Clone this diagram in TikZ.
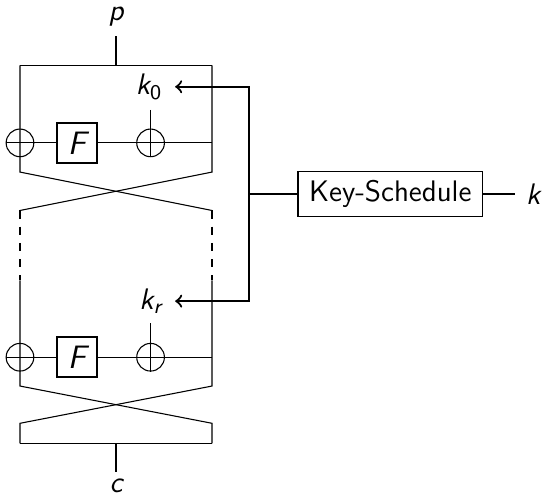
\documentclass[tikz,border=0pt]{standalone}
\usetikzlibrary{positioning}

\tikzset{
    xor/.style={draw, circle, minimum size=0.36cm, inner sep=0pt},
    fbox/.style={draw, line width=0.7pt, minimum size=0.52cm, inner sep=0pt},
    keylbl/.style={anchor=east, inner sep=4.5pt},
    keybus/.style={thick},
}

\begin{document}
\begin{tikzpicture}[font=\fontsize{11}{13}\selectfont\sffamily]

    \useasboundingbox (-0.26,-0.70) rectangle (6.86,5.77);

    % Input
    \node[inner sep=1pt] (p) at (1.25,5.55) {\itshape p};
    \draw (0,4.92) -- (2.5,4.92);
    \draw (1.25,4.92) -- (1.25,5.30);

    % Round 0
    \node[xor] (xl0) at (0,3.91) {};
    \node[fbox] (f0) at (0.74,3.91) {\large\itshape F};
    \node[xor] (xr0) at (1.7,3.91) {};
    \node[keylbl] (k0) at (2.02,4.64) {\itshape k\textsubscript{\upshape 0}};
    \draw (0,4.92) -- (0,3.53) -- (2.5,3.03);
    \draw (2.5,4.92) -- (2.5,3.53) -- (0,3.03);
    \draw (xl0.west) -- (f0.west);
    \draw (f0.east) -- (2.5,3.91);
    \draw (1.7,4.34) -- (xr0.south);

    % Skipped rounds
    \draw[dashed] (0,3.03) -- (0,2.12);
    \draw[dashed] (2.5,3.03) -- (2.5,2.12);

    % Round r
    \node[xor] (xlr) at (0,1.12) {};
    \node[fbox] (fr) at (0.74,1.12) {\large\itshape F};
    \node[xor] (xrr) at (1.7,1.12) {};
    \node[keylbl] (kr) at (2.02,1.85) {\itshape k\textsubscript{r}};
    \draw (0,2.12) -- (0,0.745) -- (2.5,0.26) -- (2.5,0);
    \draw (2.5,2.12) -- (2.5,0.745) -- (0,0.26) -- (0,0);
    \draw (xlr.west) -- (fr.west);
    \draw (fr.east) -- (2.5,1.12);
    \draw (1.7,1.56) -- (xrr.south);

    % Output
    \draw (0,0) -- (2.5,0);
    \draw (1.25,0) -- (1.25,-0.38);
    \node[inner sep=1pt] (c) at (1.25,-0.55) {\itshape c};

    % Key schedule
    \node[draw, semithick, minimum width=2.4cm, minimum height=0.59cm] (ks) at (4.82,3.245) {Key-Schedule};
    \node (k) at (6.68,3.245) {\itshape k};
    \coordinate (bus) at (2.98,3.245);
    \coordinate (kin) at (6.45,3.245);
    \draw[keybus] (ks.east) -- (kin);
    \draw[keybus] (ks.west) -- (bus);
    \draw[keybus,->] (bus) |- (k0);
    \draw[keybus,->] (bus) |- (kr);

\end{tikzpicture}
\end{document}
